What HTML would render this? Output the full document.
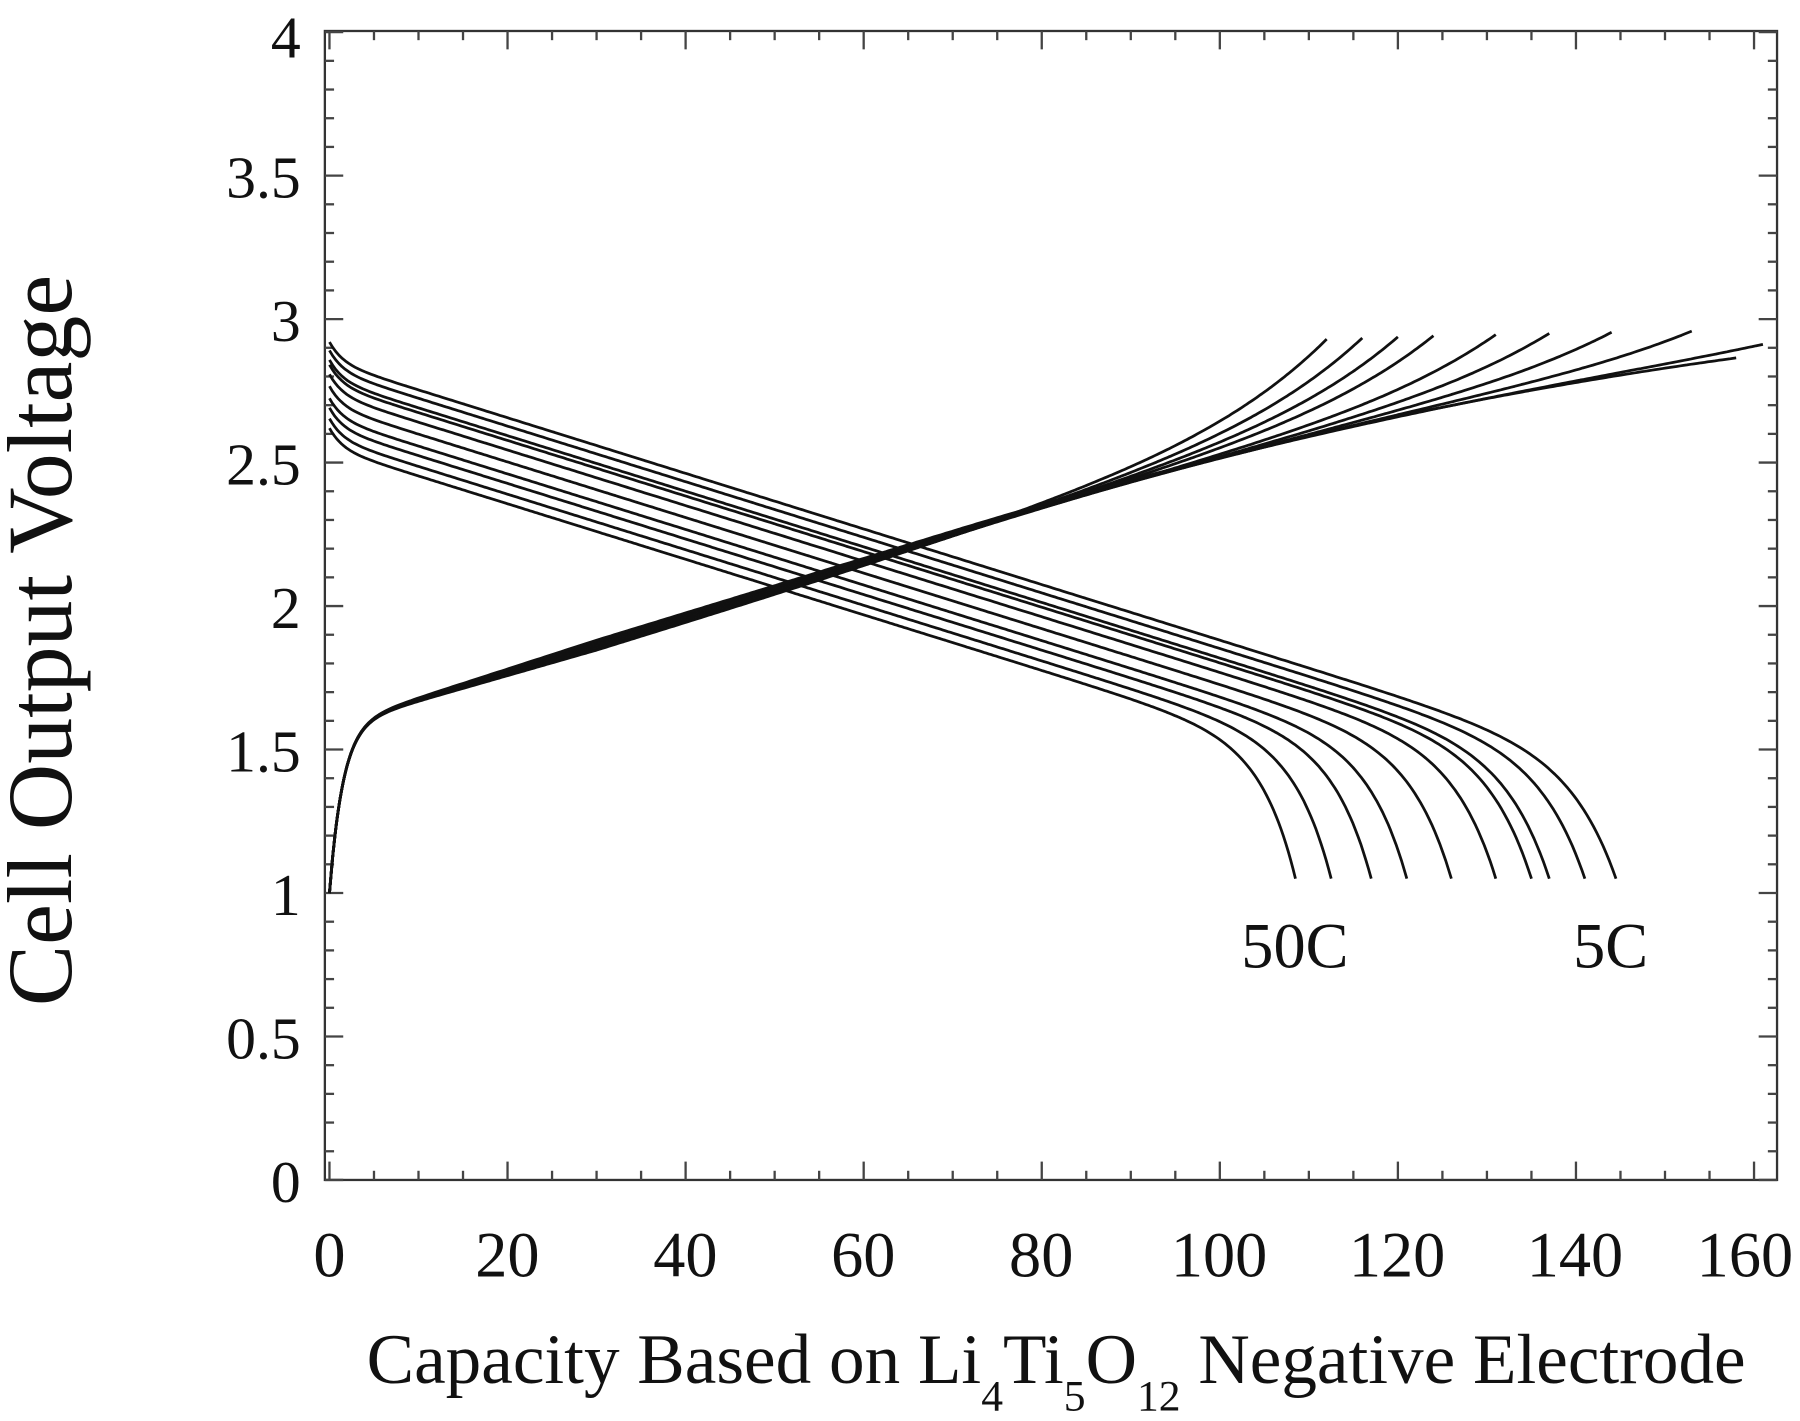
<!DOCTYPE html>
<html><head><meta charset="utf-8"><style>
html,body{margin:0;padding:0;background:#fff;width:1800px;height:1421px;overflow:hidden}
svg{display:block}
text{font-family:"Liberation Serif",serif;fill:#111}
</style></head><body>
<svg id="s" width="1800" height="1421" viewBox="0 0 1568 1238" preserveAspectRatio="none">
<rect x="283" y="27" width="1265" height="1001" fill="none" stroke="#333" stroke-width="2"/>
<g id="ticks" stroke="#444" stroke-width="2"></g>
<g id="curves" fill="none" stroke="#111" stroke-width="2.4" stroke-linejoin="round"></g>
<g font-size="52" text-anchor="end">
<text x="262" y="1047">0</text><text x="262" y="922">0.5</text><text x="262" y="797">1</text>
<text x="262" y="672">1.5</text><text x="262" y="547">2</text><text x="262" y="422">2.5</text>
<text x="262" y="297">3</text><text x="262" y="172">3.5</text><text x="262" y="50">4</text>
</g>
<g font-size="56" text-anchor="middle">
<text x="287" y="1112">0</text><text x="442" y="1112">20</text><text x="597" y="1112">40</text>
<text x="752" y="1112">60</text><text x="907" y="1112">80</text><text x="1062" y="1112">100</text>
<text x="1217" y="1112">120</text><text x="1372" y="1112">140</text><text x="1520" y="1112">160</text>
</g>
<text x="920" y="1205" font-size="62" text-anchor="middle">Capacity Based on Li<tspan font-size="38" dy="24">4</tspan><tspan dy="-24">Ti</tspan><tspan font-size="38" dy="24">5</tspan><tspan dy="-24">O</tspan><tspan font-size="38" dy="24">12</tspan><tspan dy="-24"> Negative Electrode</tspan></text>
<text transform="translate(62,558) rotate(-90)" font-size="80" text-anchor="middle">Cell Output Voltage</text>
<text x="1128" y="843" font-size="56" text-anchor="middle">50C</text>
<text x="1403" y="843" font-size="56" text-anchor="middle">5C</text>
</svg>
<script>
var X=function(x){return 287+x*7.756},Y=function(v){return 1028-v*250};
var NS="http://www.w3.org/2000/svg";
var tg=document.getElementById("ticks"),cg=document.getElementById("curves");
function line(g,x1,y1,x2,y2){var l=document.createElementNS(NS,"line");l.setAttribute("x1",x1);l.setAttribute("y1",y1);l.setAttribute("x2",x2);l.setAttribute("y2",y2);g.appendChild(l);}
for(var i=0;i<=40;i++){var y=Y(i/10),L=(i%5==0)?16:8;line(tg,283,y,283+L,y);line(tg,1548,y,1548-L,y);}
for(var i=0;i<=32;i++){var x=X(i*5),L=(i%4==0)?16:8;line(tg,x,1028,x,1028-L);line(tg,x,27,x,27+L);}
function path(pts){var p=document.createElementNS(NS,"path");var d="M"+pts.map(function(a){return X(a[0]).toFixed(1)+","+Y(a[1]).toFixed(1)}).join("L");p.setAttribute("d",d);cg.appendChild(p);}
// discharge
var Qs=[108.5,112.5,117,121,126,131,135,137,141,144.5];
var W=0.035;
for(var k=0;k<Qs.length;k++){var Q=Qs[k],t=(Q-108.5)/36;var V0=2.55+0.3*t,m=1.05+0.35*t;
var A=(V0-m-1.05)/(1-Math.exp(-1/W));var pts=[];
for(var i=0;i<=400;i++){var s=i/400,x=s*Q;var v=V0-m*s-A*(Math.exp((s-1)/W)-Math.exp(-1/W))+0.07*Math.exp(-x/1.5);
pts.push([x,v]);}path(pts);}
// charge
function base(x){return 1.58+0.0095*x-0.58*Math.exp(-x/1.5)-0.00003*Math.pow(Math.max(0,x-70),2);}
var Es=[[112,2.95],[116,2.95],[120,2.95],[124,2.95],[131,2.95],[137,2.95],[144,2.95],[153,2.95],[161,2.9],[158,0]];
for(var k=0;k<Es.length;k++){var E=Es[k][0],T=Es[k][1];var A=T?T-base(E):0;var pts=[];var off=(k-5)*0.004;
for(var i=0;i<=400;i++){var x=i/400*E;var v=base(x)+off*Math.min(1,x/30)+(A?A*Math.exp((x-E)/15):0);pts.push([x,v]);}
path(pts);}
</script>
</body></html>
